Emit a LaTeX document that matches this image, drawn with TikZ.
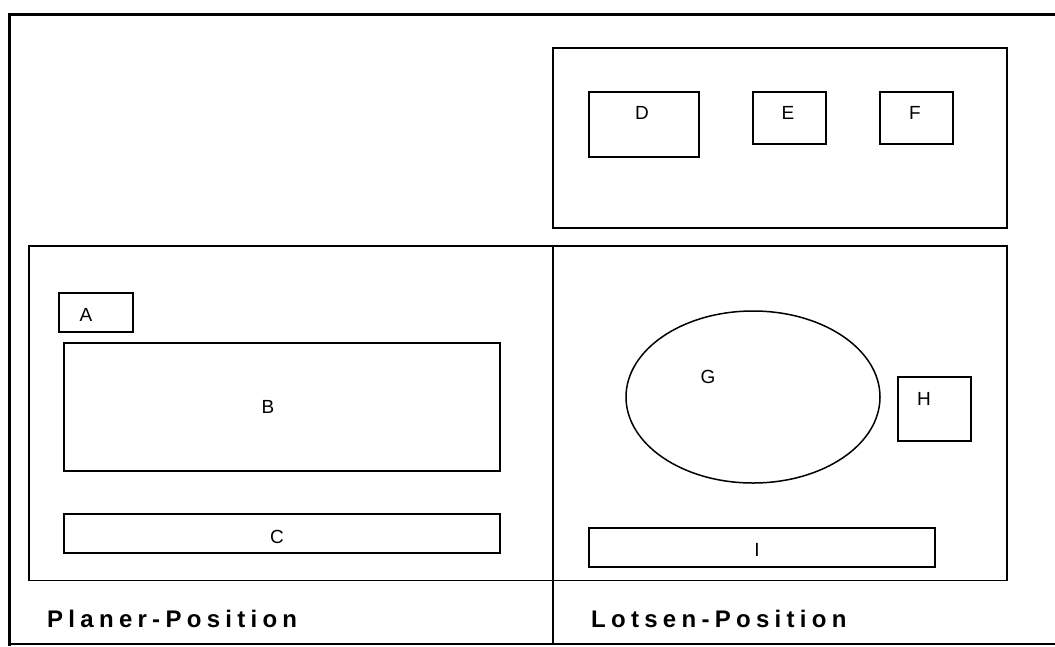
\documentclass[tikz,border=0pt]{standalone}
\usepackage{fontspec}
\setmainfont{Liberation Sans}
\usetikzlibrary{shapes.geometric}

\begin{document}
\begin{tikzpicture}[x=1pt, y=-1pt,
    panel/.style ={draw, line width=1.5pt, inner sep=0pt},
    part/.style ={draw, line width=1.5pt, inner sep=0pt},
    tag/.style ={inner sep=0pt, font=\fontsize{19}{22}\selectfont},
    caption/.style ={inner sep=0pt, anchor=base west,
      font=\fontsize{24}{28}\selectfont\bfseries\addfontfeature{LetterSpace=22}}]
   \useasboundingbox (0,0) rectangle (1055,646);

   % frame
   \draw[line width=3pt] (1055,14) -- (9,14) -- (9,645.5);
   \draw[line width=2pt] (8,644) -- (1055,644);

   % panels
   \node[panel, minimum width=454, minimum height=180] (upper) at (780,138) {};
   \node[panel, minimum width=978, minimum height=334.5] (lower) at (518,413.25) {};
   \coordinate (split) at (553,246);
   \coordinate (splitend) at (553,644);
   \draw[line width=1.5pt] (split) -- (splitend);

   % planer side
   \node[part, minimum width=74, minimum height=39] (A) at (96,312.5) {};
   \node[part, minimum width=436, minimum height=128] (B) at (282,407) {};
   \node[part, minimum width=436, minimum height=39] (C) at (282,533.5) {};
   \node[tag] (labA) at (86,315) {A};
   \node[tag] (labB) at (268,407) {B};
   \node[tag] (labC) at (277,537) {C};

   % upper boxes
   \node[part, minimum width=110, minimum height=65] (D) at (644,124.5) {};
   \node[part, minimum width=73, minimum height=52] (E) at (789.5,118) {};
   \node[part, minimum width=73, minimum height=52] (F) at (916.5,118) {};
   \node[tag] (labD) at (642,113) {D};
   \node[tag] (labE) at (788,113) {E};
   \node[tag] (labF) at (915,113) {F};

   % lotsen side
   \node[part, ellipse, minimum width=254, minimum height=172] (G) at (753,397) {};
   \node[part, minimum width=73, minimum height=64] (H) at (934.5,409) {};
   \node[part, minimum width=346, minimum height=39] (I) at (762,547.5) {};
   \node[tag] (labG) at (708,377) {G};
   \node[tag] (labH) at (924,399) {H};
   \node[tag] (labI) at (757,550) {I};

   \node[caption] (planer) at (47,627) {Planer-Position};
   \node[caption] (lotsen) at (591,627) {Lotsen-Position};
\end{tikzpicture}
\end{document}
